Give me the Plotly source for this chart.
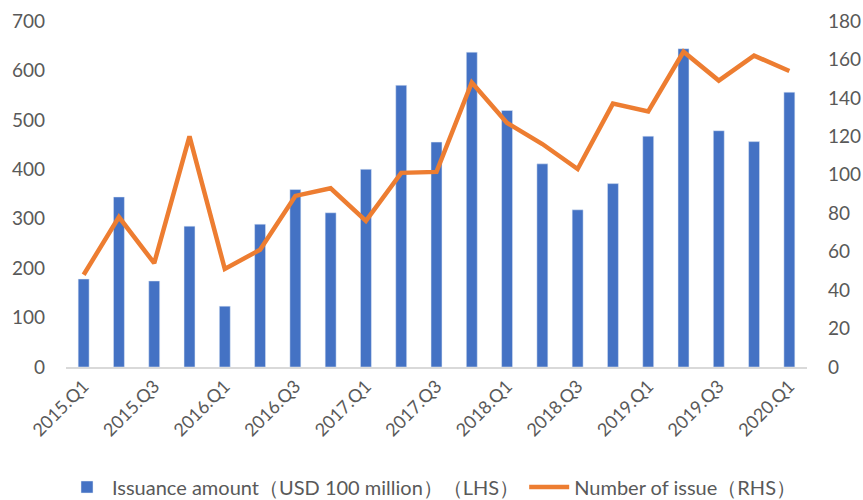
import plotly.graph_objects as go

quarters = [f"{y}.Q{q}" for y in range(2015, 2021) for q in range(1, 5)][:21]
amount = [178, 344, 174, 285, 123, 289, 359, 312, 400, 570, 455,
          637, 519, 411, 318, 371, 467, 644, 478, 456, 556]
count = [48, 78, 54, 120, 51, 61, 89, 93, 76, 101, 101.5,
         148, 127, 116, 103, 137, 133, 164, 149, 162, 154]
tick_labels = quarters[::2]

font_fam = "Lato, 'Open Sans', sans-serif"
gray = "#595959"

fig = go.Figure()
fig.add_trace(go.Bar(x=quarters, y=amount, name="Issuance amount（USD 100 million）（LHS）",
                     marker_color="#4472C4", width=0.31, yaxis="y"))
fig.add_trace(go.Scatter(x=quarters, y=count, name="Number of issue（RHS）",
                         mode="lines", line=dict(color="#ED7D31", width=4.5), yaxis="y2"))

fig.update_layout(
    width=863, height=500,
    margin=dict(l=66, r=56, t=21, b=133, autoexpand=False),
    plot_bgcolor="white", paper_bgcolor="white",
    font=dict(family=font_fam, size=19, color=gray),
    bargap=0.6,
    xaxis=dict(type="category", tickmode="array", tickvals=tick_labels, ticktext=tick_labels,
               tickangle=-45, showline=True, linecolor="#D9D9D9", linewidth=1.5,
               ticks="", showgrid=False, tickfont=dict(size=18), automargin=False),
    yaxis=dict(range=[0, 700], dtick=100, showgrid=False, zeroline=False, ticks="",
               ticklabelstandoff=20, automargin=False),
    yaxis2=dict(range=[0, 180], dtick=20, overlaying="y", side="right", showgrid=False,
                zeroline=False, ticks="", ticklabelstandoff=20, automargin=False),
    legend=dict(orientation="h", xref="container", x=0.5, xanchor="center",
                yref="container", y=0.026, yanchor="middle",
                font=dict(size=20), itemwidth=40),
    showlegend=True,
)
fig.write_html("out.html", config={"displayModeBar": False},
               post_script="document.body.style.margin='0';document.body.style.overflow='hidden';")
